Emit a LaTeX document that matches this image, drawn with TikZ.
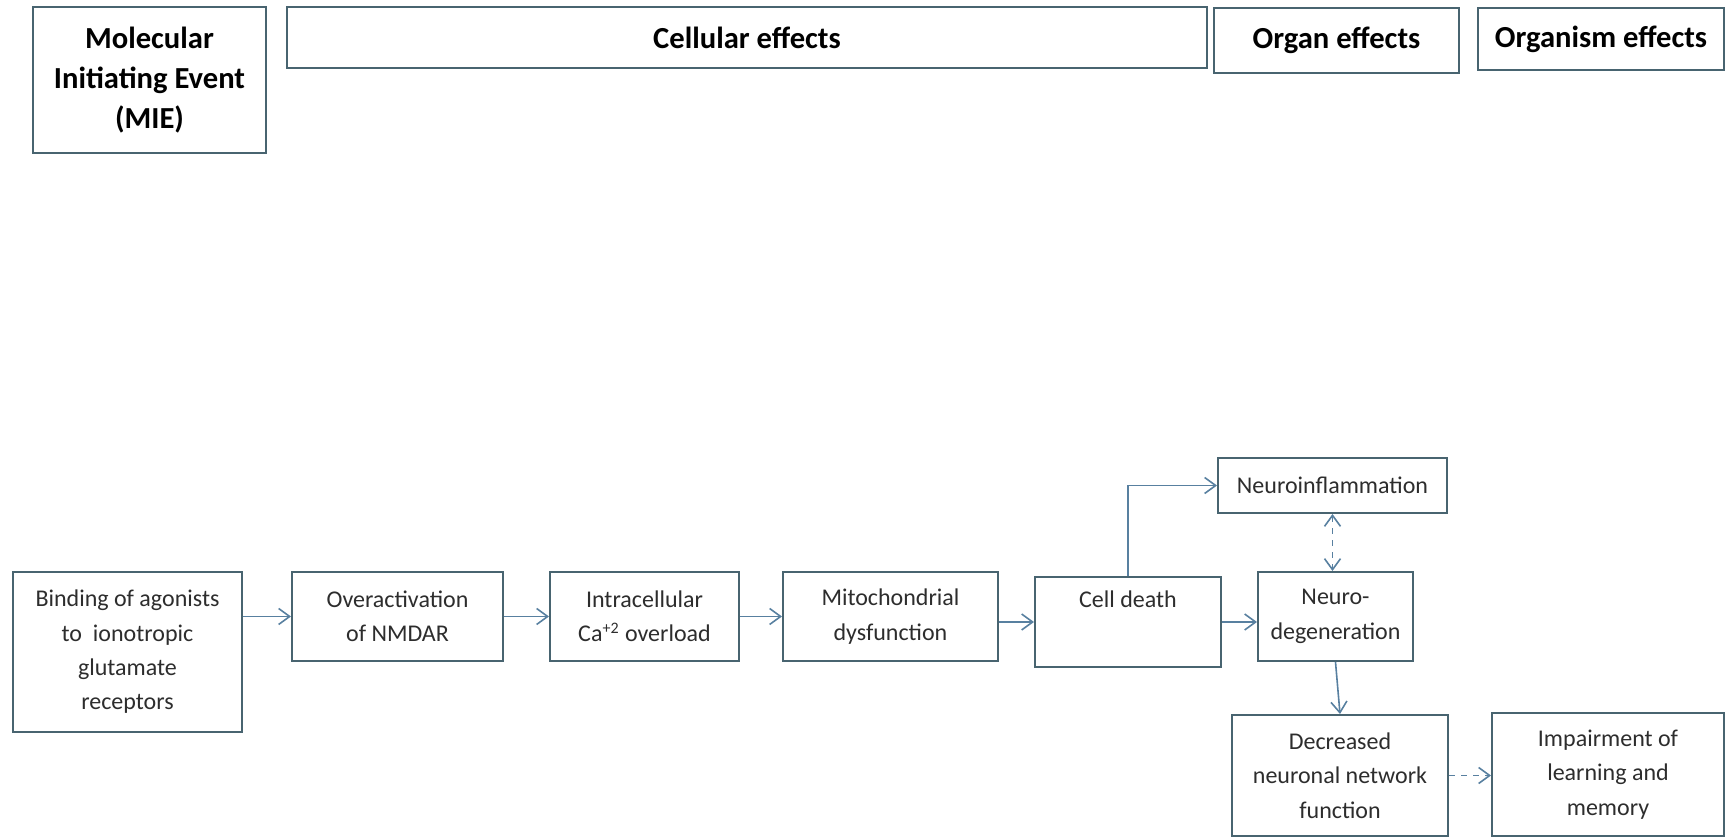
\documentclass[tikz,border=0pt]{standalone}
\usepackage{fontspec}
\setmainfont{Carlito}
\usetikzlibrary{arrows.meta}
\definecolor{boxline}{RGB}{72,100,112}
\definecolor{arrowline}{RGB}{88,128,160}
\definecolor{txt}{RGB}{45,45,45}

\begin{document}
\begin{tikzpicture}[x=0.5pt,y=-0.5pt,
    >={Straight Barb[length=5.5pt,width=8pt]},
    box/.style={draw=boxline,line width=1pt,fill=white,inner sep=0pt,align=center,
      font=\fontsize{12}{17.2}\selectfont,text=txt},
    head/.style={box,font=\fontsize{15.3}{20}\selectfont\bfseries,text=black},
    arr/.style={->,draw=arrowline,line width=0.8pt},
    darr/.style={arr,dashed}]
  \useasboundingbox (0,0) rectangle (1726,838);

  % stage headers
  \node [head,minimum width=116.5pt,minimum height=73pt] (mie) at (149.5,80) {Molecular\\Initiating Event\\(MIE)};
  \node [head,minimum width=460pt,minimum height=30.5pt] (cellular) at (747,37.5) {Cellular effects};
  \node [head,minimum width=122.5pt,minimum height=32.5pt] (organ) at (1336.5,40.5) {Organ effects};
  \node [head,minimum width=123pt,minimum height=31pt] (organism) at (1601,39) {Organism effects};

  % key events
  \node [box,minimum width=114.5pt,minimum height=80pt] (bind) at (127.5,652) {Binding of agonists\\to\ \ ionotropic\\glutamate\\receptors};
  \node [box,minimum width=105.5pt,minimum height=44.5pt] (over) at (397.5,616.5) {Overactivation\\of NMDAR};
  \node [box,minimum width=94.5pt,minimum height=44.5pt] (intra) at (644.5,616.5) {Intracellular\\Ca\textsuperscript{+2} overload};
  \node [box,minimum width=107.5pt,minimum height=44.5pt] (mito) at (890.5,616.5) {Mitochondrial\\dysfunction};
  \node [box,minimum width=93pt,minimum height=45pt] (death) at (1128,622) {Cell death\\\strut};
  \node [box,minimum width=114.5pt,minimum height=27.5pt] (infl) at (1332.5,485.5) {Neuroinflammation};
  \node [box,minimum width=77.5pt,minimum height=44.5pt] (degen) at (1335.5,616.5) {Neuro-\\degeneration};
  \node [box,minimum width=108pt,minimum height=60.5pt] (decr) at (1340,775.5) {Decreased\\neuronal network\\function};
  \node [box,minimum width=116pt,minimum height=61.5pt] (impair) at (1608,774.5) {Impairment of\\learning and\\memory};

  \draw[arr] (bind.east |- over.west) -- (over.west);
  \draw[arr] (over) -- (intra);
  \draw[arr] (intra) -- (mito);
  \draw[arr] (mito.east |- death.west) -- (death.west);
  \draw[arr] (death.north) |- (infl.west);
  \draw[arr] (death.east) -- (death.east -| degen.west);
  \draw[darr,<->] (infl.south) -- (infl.south |- degen.north);
  \draw[arr] (degen.south) -- (decr.north);
  \draw[darr] (decr.east) -- (impair.west |- decr.east);
\end{tikzpicture}
\end{document}
